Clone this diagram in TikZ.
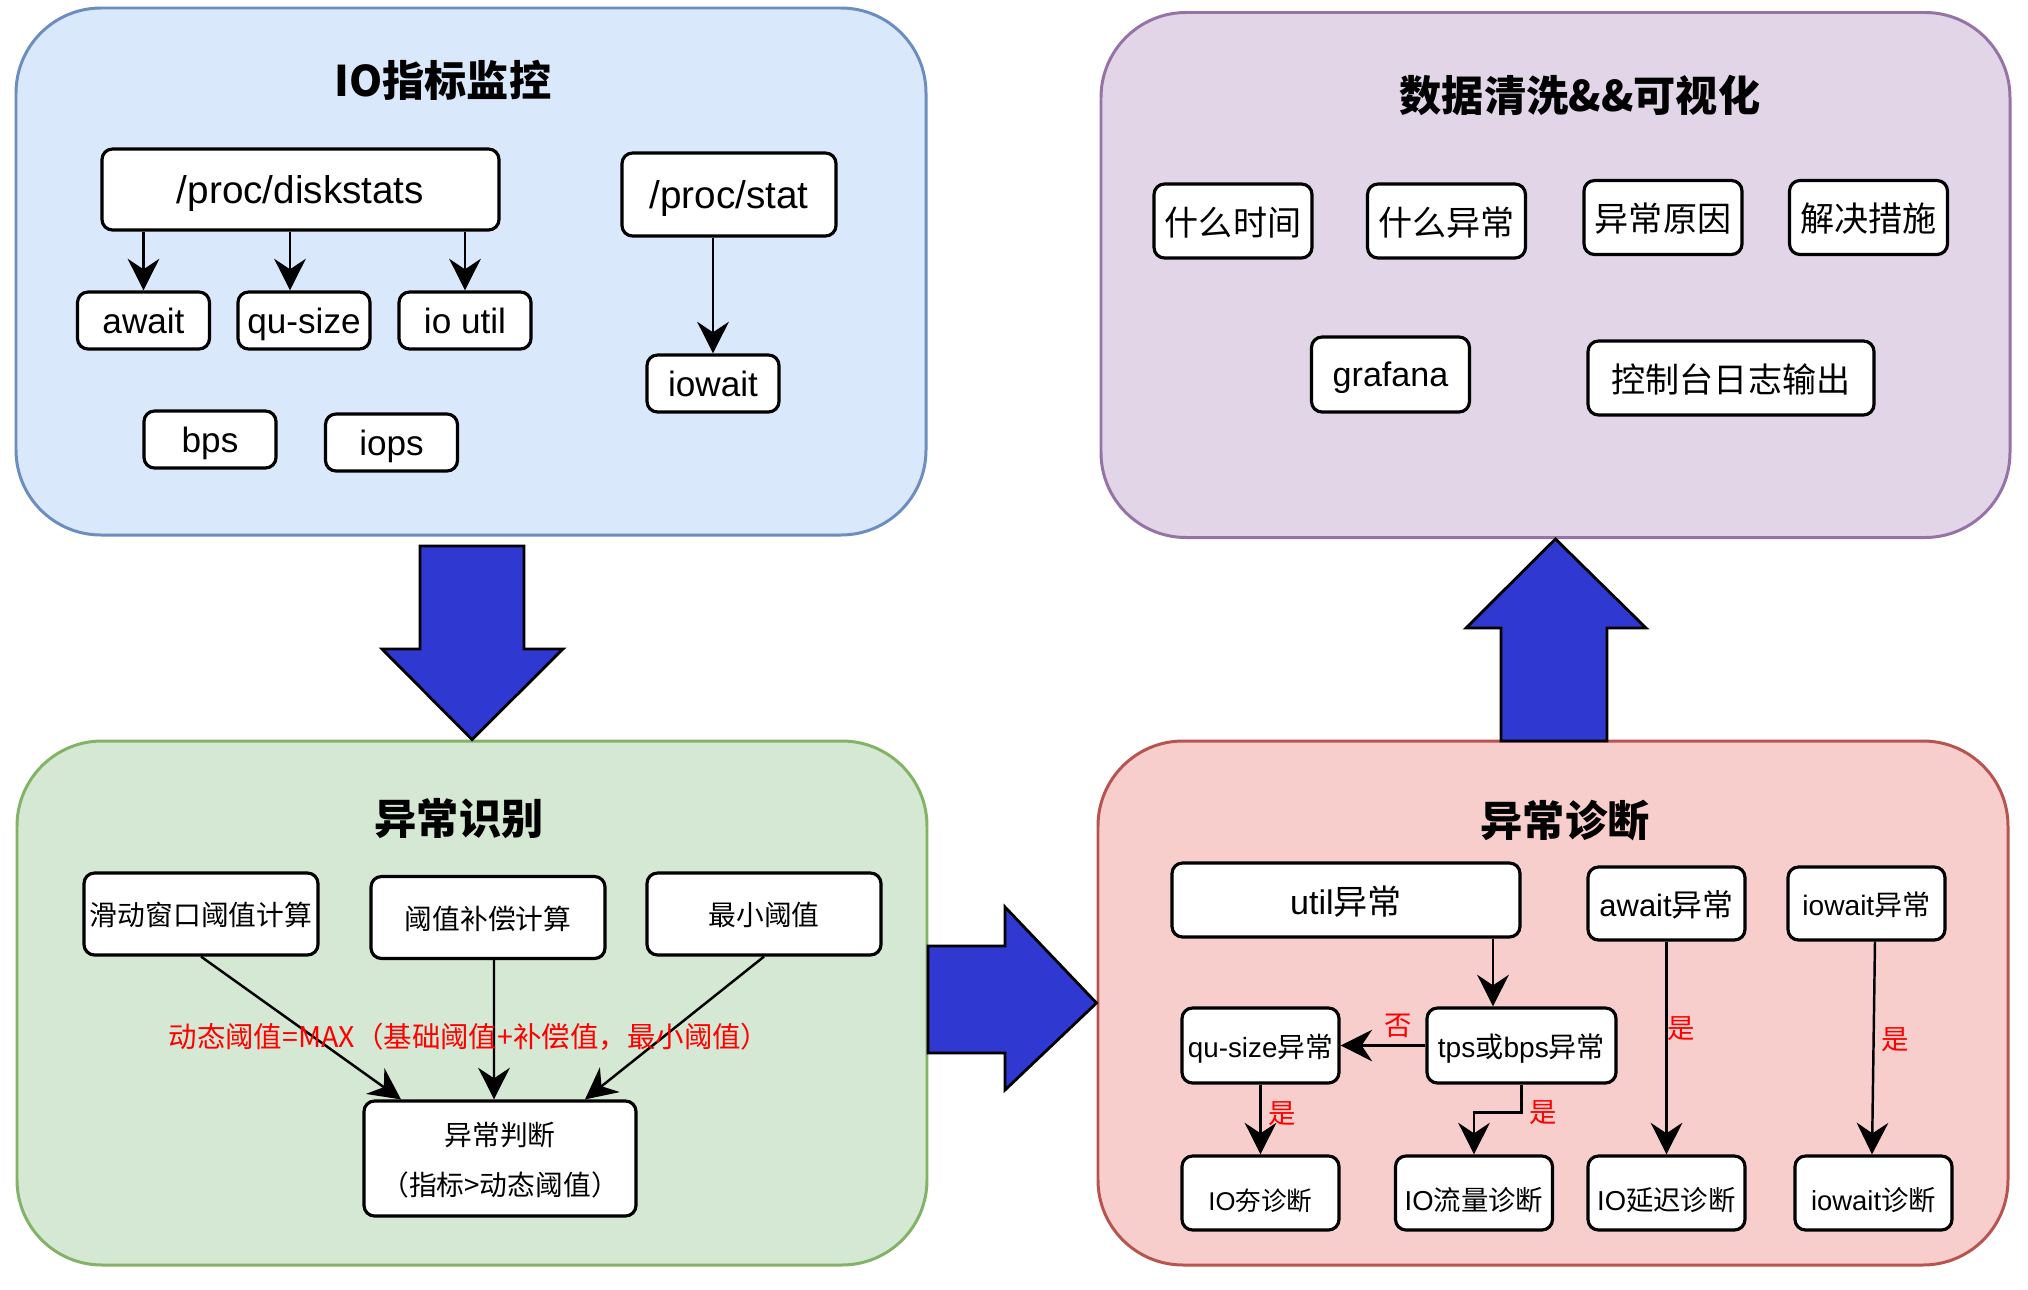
\documentclass[tikz,border=0pt]{standalone}
\usepackage{fontspec}
\setmainfont{Liberation Sans}
\newfontfamily\cjk{Noto Sans CJK SC}
\usepackage{xcolor}
\usepackage{tikz}
\usetikzlibrary{positioning, calc, arrows.meta}
\definecolor{monfill}{HTML}{DAE8FC}
\definecolor{mondraw}{HTML}{6C8EBF}
\definecolor{visfill}{HTML}{E1D5E7}
\definecolor{visdraw}{HTML}{9673A6}
\definecolor{detfill}{HTML}{D5E8D4}
\definecolor{detdraw}{HTML}{82B366}
\definecolor{diagfill}{HTML}{F8CECC}
\definecolor{diagdraw}{HTML}{B85450}
\definecolor{bigblue}{RGB}{48,56,210}
\newcommand{\zh}[1]{{\cjk #1}}

\begin{document}
\begin{tikzpicture}[
  panel/.style={draw, line width=0.85pt, rounded corners=0.85cm, minimum width=9.1cm, minimum height=5.24cm},
  ptitle/.style={font=\cjk\bfseries\fontsize{12}{14}\selectfont},
  box/.style={draw, fill=white, line width=0.9pt, rounded corners=3pt, inner sep=0pt, text depth=0pt},
  sbox/.style={box, minimum width=1.32cm, minimum height=0.57cm, font=\fontsize{10}{12}\selectfont},
  pbox/.style={box, minimum width=1.58cm, minimum height=0.74cm, font=\cjk\fontsize{9.7}{11}\selectfont},
  gbox/.style={box, minimum width=2.34cm, minimum height=0.82cm, font=\cjk\fontsize{7.9}{9.5}\selectfont},
  rbox/.style={box, minimum width=1.57cm, minimum height=0.74cm, font=\fontsize{7.8}{9.5}\selectfont},
  lowbox/.style={rbox, text height=10pt},
  arr/.style={line width=0.7pt, -{Stealth[length=9pt,width=9pt,inset=3pt]}},
  yes/.style={text=red, font=\cjk\fontsize{7.8}{9}\selectfont, inner sep=2pt},
  bigarrow/.style={fill=bigblue, draw=black, line width=0.8pt}]
\useasboundingbox (0,0) rectangle (20.28,-12.90);

\node[panel, fill=monfill, draw=mondraw, minimum height=5.27cm] (mon) at (4.71,-2.715) {};
\node[ptitle] (montitle) at (4.43,-0.80) {IO指标监控};
\node[box, minimum width=3.97cm, minimum height=0.81cm, font=\fontsize{11}{13}\selectfont] (disk) at (3.005,-1.895) {/proc/diskstats};
\node[box, minimum width=2.14cm, minimum height=0.83cm, font=\fontsize{11}{13}\selectfont] (stat) at (7.29,-1.945) {/proc/stat};
\node[sbox] (aw) at (1.435,-3.205) {await};
\node[sbox] (qs) at (3.04,-3.205) {qu-size};
\node[sbox] (ioutil) at (4.65,-3.205) {io util};
\node[sbox] (iow) at (7.13,-3.835) {iowait};
\node[sbox] (bps) at (2.10,-4.395) {bps};
\node[sbox] (iops) at (3.915,-4.425) {iops};
\draw[arr] (disk.south -| aw.north) -- (aw.north);
\draw[arr] ([xshift=-0.14cm]qs.north |- disk.south) -- ([xshift=-0.14cm]qs.north);
\draw[arr] (disk.south -| ioutil.north) -- (ioutil.north);
\draw[arr] (stat.south -| iow.north) -- (iow.north);

\node[panel, fill=visfill, draw=visdraw, minimum width=9.09cm, minimum height=5.25cm] (vis) at (15.555,-2.75) {};
\node[ptitle] (vistitle) at (15.80,-0.95) {数据清洗\&\&可视化};
\node[pbox] (when) at (12.33,-2.21) {什么时间};
\node[pbox] (what) at (14.465,-2.21) {什么异常};
\node[pbox] (why) at (16.63,-2.175) {异常原因};
\node[pbox] (fix) at (18.685,-2.175) {解决措施};
\node[pbox, font=\fontsize{9.7}{11}\selectfont, minimum height=0.75cm] (graf) at (13.905,-3.745) {grafana};
\node[pbox, minimum width=2.86cm] (console) at (17.31,-3.78) {控制台日志输出};

\node[panel, fill=detfill, draw=detdraw] (detect) at (4.72,-10.03) {};
\node[ptitle] (dettitle) at (4.59,-8.19) {异常识别};
\node[gbox] (win) at (2.01,-9.14) {滑动窗口阈值计算};
\node[gbox] (comp) at (4.88,-9.175) {阈值补偿计算};
\node[gbox] (minth) at (7.64,-9.14) {最小阈值};
\node[box, minimum width=2.72cm, minimum height=1.15cm, align=center, font=\cjk\fontsize{7.9}{14.2}\selectfont] (judge) at (5.00,-11.585) {异常判断\\（指标>动态阈值）};
\draw[arr] (win.south) -- ([xshift=-0.99cm]judge.north);
\draw[arr] ([xshift=0.06cm]comp.south) -- ([xshift=-0.06cm]judge.north);
\draw[arr] (minth.south) -- ([xshift=0.85cm]judge.north);
\node[text=red, font=\cjk\fontsize{8.1}{9}\selectfont] (rule) at (4.69,-10.37) {动态阈值=MAX（基础阈值+补偿值，最小阈值）};

\node[panel, fill=diagfill, draw=diagdraw] (diag) at (15.53,-10.03) {};
\node[ptitle] (diagtitle) at (15.65,-8.21) {异常诊断};
\node[box, minimum width=3.48cm, minimum height=0.74cm, font=\fontsize{9.7}{11}\selectfont] (util) at (13.46,-9.00) {util\zh{异常}};
\node[rbox, minimum height=0.73cm, font=\fontsize{8.8}{10}\selectfont] (awE) at (16.665,-9.035) {await\zh{异常}};
\node[rbox, minimum height=0.73cm, font=\fontsize{8}{10}\selectfont] (iowE) at (18.665,-9.035) {iowait\zh{异常}};
\node[rbox, minimum height=0.75cm, font=\fontsize{7.9}{9.5}\selectfont] (qsE) at (12.605,-10.455) {qu-size\zh{异常}};
\node[rbox, minimum width=1.89cm, minimum height=0.75cm, font=\fontsize{8}{10}\selectfont] (tps) at (15.215,-10.455) {tps\zh{或}bps\zh{异常}};
\node[lowbox, font=\fontsize{7.3}{9}\selectfont] (hang) at (12.605,-11.93) {IO\zh{夯诊断}};
\node[lowbox] (flow) at (14.74,-11.93) {IO\zh{流量诊断}};
\node[lowbox] (lat) at (16.665,-11.93) {IO\zh{延迟诊断}};
\node[lowbox] (iwd) at (18.735,-11.93) {iowait\zh{诊断}};
\draw[arr] ([xshift=-0.285cm]tps.north |- util.south) -- ([xshift=-0.285cm]tps.north);
\draw[arr] (tps.west) -- node[yes, above, pos=0.32] {否} (qsE.east);
\draw[arr] (qsE.south) -- node[yes, right, pos=0.42] {是} (hang.north);
\draw[arr] (tps.south) -- ++(0,-0.28) node[yes, right] {是} -| (flow.north);
\draw[arr] (awE.south) -- node[yes, right, pos=0.41, xshift=-2pt] {是} (lat.north);
\draw[arr] ([xshift=0.085cm]iowE.south) -- node[yes, right, pos=0.46] {是} ([xshift=-0.015cm]iwd.north);

\draw[bigarrow] (4.20,-5.46) -- (5.24,-5.46) -- (5.24,-6.49) -- (5.63,-6.49) -- (detect.north) -- (3.82,-6.49) -- (4.20,-6.49) -- cycle;
\draw[bigarrow] (9.28,-9.46) -- (10.05,-9.46) -- (10.05,-9.07) -- (diag.west) -- (10.05,-10.90) -- (10.05,-10.53) -- (9.28,-10.53) -- cycle;
\draw[bigarrow] (15.01,-7.41) -- (15.01,-6.28) -- (14.66,-6.28) -- (vis.south) -- (16.46,-6.28) -- (16.07,-6.28) -- (16.07,-7.41) -- cycle;
\end{tikzpicture}
\end{document}
